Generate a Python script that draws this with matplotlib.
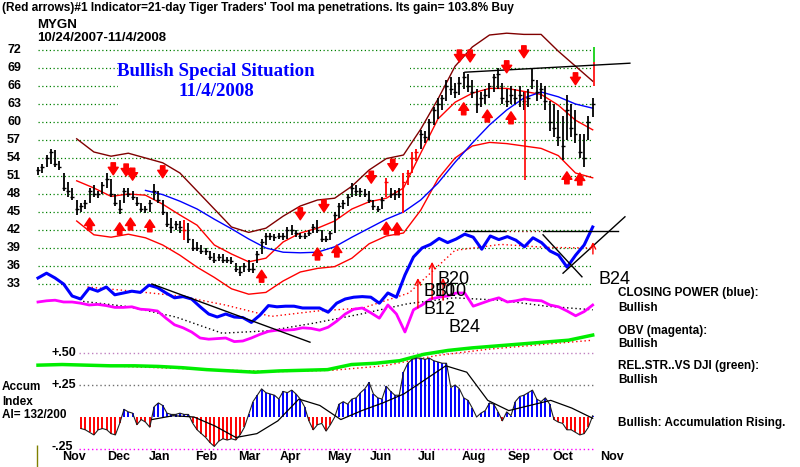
import numpy as np
import matplotlib
matplotlib.use('Agg')
import matplotlib.pyplot as plt
from matplotlib import transforms
from matplotlib.patches import Rectangle

plt.rcParams['font.family'] = ['Liberation Sans', 'DejaVu Sans']

# ---- price bars, one every 2 trading days (day 0 = 10/24/2007)
bar_high = [52.5, 53, 54.5, 55.5, 55.3, 53.5, 51.5, 50, 49, 47,
            46.5, 47, 49, 49.5, 48.5, 50, 51.5, 50.5, 48, 47,
            49, 49, 48.5, 47.5, 46.5, 46, 47, 49.7, 48.5, 47,
            45, 44, 43.5, 43.5, 43.7, 43.2, 40.5, 40, 39.5, 39,
            38.5, 38.2, 38, 38, 37.5, 37.5, 36.5, 36, 36.5, 37,
            36.5, 38.5, 40.5, 41.5, 41.5, 41.3, 41.5, 41.5, 42.5, 42.8,
            42, 41.5, 41.5, 42, 43, 43.7, 42, 41, 41.8, 45,
            46.5, 47, 48, 49.8, 49.5, 49, 48.8, 48.5, 47, 46,
            47.5, 50.7, 49, 48.7, 49, 51.5, 52, 55, 55.5, 58.7,
            58.5, 60.5, 62.5, 64, 64.5, 67, 67.5, 66.5, 67.5, 68.3,
            68, 67, 65.5, 65, 65.5, 66.5, 68, 69, 66.5, 65.5,
            66, 65.5, 66, 65, 65.5, 69, 67, 66.5, 66, 63.5,
            63, 62, 61, 64.5, 63, 62, 58, 58, 61, 64]
bar_low = [51.2, 51.5, 52.5, 53, 52.5, 52, 48.5, 47.5, 47, 44.5,
           45, 45.5, 46.5, 47.5, 47.3, 48, 49, 47.5, 46, 44.7,
           46.5, 47.5, 47, 46, 45, 44.8, 45, 47, 46.5, 44.5,
           42.5, 41.5, 42, 41.5, 40.3, 39.8, 38.5, 38.5, 38, 37.8,
           37, 36.5, 36.8, 36.5, 36.5, 36.3, 35, 34.3, 35, 35,
           34.8, 36.5, 38, 39.5, 40.3, 40.2, 40.5, 40.3, 40.5, 41.2,
           40.8, 40.5, 40.5, 41, 41.5, 41.5, 40, 40, 40.3, 41.5,
           44, 45.5, 46, 47.5, 47.7, 47.5, 47.5, 46.5, 45.3, 45,
           45.5, 47.5, 47.3, 47, 47.3, 44.8, 49.5, 51.5, 53.5, 55.5,
           56.5, 57, 59.5, 60.5, 62, 63.5, 64.5, 64, 64.5, 65.5,
           65, 64, 61.5, 62.5, 63, 64, 65, 65.5, 63, 62.5,
           63, 63, 62.5, 62, 62.5, 65.5, 63.5, 63.8, 62, 58.5,
           57.5, 56, 53.7, 57, 57.5, 56.5, 54, 52.5, 57, 60.8]
bar_close = [52, 52.5, 54, 55, 53, 52.5, 49, 48.5, 47.5, 45.5,
             46, 46.5, 48.5, 48, 48, 49.5, 50.5, 48, 46.5, 45.5,
             48.5, 48, 47.5, 46.5, 45.5, 45.5, 46.5, 48.5, 47, 45,
             43, 42.5, 43, 42.5, 42, 40.5, 39, 39, 38.5, 38.5,
             37.5, 37, 37.5, 37, 37, 36.8, 35.5, 35, 36, 35.5,
             35.5, 38, 40, 41, 41, 40.8, 41, 41, 42, 42,
             41.5, 41, 41, 41.5, 42.5, 42, 40.5, 40.5, 41.5, 44.5,
             46, 46.5, 47.5, 49, 48.5, 48.5, 48, 47, 46, 45.5,
             47, 50, 48, 48, 48, 50, 51.5, 54, 55, 58,
             57.5, 60, 62, 63, 64, 66, 65.5, 65, 66.5, 67.5,
             66, 65, 63, 64, 64.5, 66, 67.5, 68, 64, 63.5,
             64.5, 64, 64.5, 63.5, 64, 67, 65, 65.5, 63.5, 60,
             59, 57.5, 56, 62, 59, 58, 55, 54, 60, 63]
red_bar_days = [68, 162, 170, 172, 174, 176]

# ---- bands and moving averages (sampled every 8 days from day 18)
band_upper = [57.2, 55, 54.3, 54.8, 54, 53.2, 51.5, 48.5, 45.5, 42.5,
              41.6, 42.3, 44.3, 46, 47, 47.3, 49.3, 52, 53.9, 54.5,
              58.8, 63.8, 69.3, 72.5, 74.5, 74.8, 74.6, 74.6, 71.8, 69.3, 66.8]
ma21 = [50.2, 49, 47.6, 48, 47.8, 46.3, 44.5, 42.8, 39.5, 38,
        36.7, 37.3, 40, 41.5, 42.3, 43.5, 45.5, 46.7, 47.3, 49,
        54.8, 60.5, 63.3, 64.8, 65.6, 65.6, 65.1, 64.6, 62.8, 60.3, 58.7]
band_lower = [43.5, 41.2, 40.8, 41.3, 40.7, 39.5, 37.8, 35.8, 34.1, 32.2,
              31.3, 31.6, 33.5, 35, 35.6, 35.9, 37.3, 39.7, 41, 41.5,
              45.3, 50.5, 54, 56, 56.6, 56.4, 56, 55.6, 54.4, 51.5, 50.7]
ma50 = [48.6, 47.9, 46.8, 45.5, 43.8, 42.2, 40.5, 39, 38.3, 38.2,
        38.3, 39.2, 40.8, 42.3, 43.8, 45, 47, 49.8, 53.3, 56.5,
        59.5, 62, 64, 65, 64.2, 63, 62.3]

# ---- red arrows (day, price at arrow tip)
down_day = [35, 41, 44, 58, 122, 133, 155, 165, 196, 201, 218, 226, 250]
down_tip = [51.2, 51, 50.3, 50.7, 43.7, 45, 49.8, 51.8, 70, 70, 68.2, 70.7, 66.2]
up_day = [24, 38, 43, 52, 104, 130, 139, 162, 167, 198, 209, 220, 246, 252]
up_tip = [44, 43.2, 44, 43.7, 35.3, 39, 39.5, 43.3, 43.2, 63.2, 62, 61.7, 51.7, 51.5]

# ---- indicators drawn in the price panel
closing_power = [34, 34.8, 34, 33, 31, 30.5, 32.3, 31.8, 32.5, 31.2,
                 31.5, 31.8, 31.6, 32.8, 32.4, 31.5, 30.7, 30.9, 30.5, 29.2,
                 28, 27.5, 28, 27.5, 27.4, 26.6, 27.8, 29.4, 29.2, 29.3,
                 29.3, 29, 29, 29, 28.3, 29.8, 30.5, 30.8, 30.9, 30.8,
                 29.8, 31.5, 30.8, 34.5, 37.5, 39, 39.6, 40.6, 39.9, 40.5,
                 41.3, 40.8, 38.8, 41, 40.4, 40.9, 40.3, 39.2, 40.7, 39.9,
                 38.5, 37.8, 35.8, 37.8, 39.5, 42.5]
cp_ma = [32.5, 31.8, 31, 29.5, 27.6, 28.5, 29, 31.5, 38.6, 39.6, 39.1, 39]
obv = [30, 30.2, 30.3, 30, 30, 29.8, 29.5, 29.6, 29.4, 29.1,
       29.1, 29.2, 28.8, 28.7, 28.5, 27.3, 26.2, 25.7, 25, 24,
       23.8, 23.9, 24, 23.4, 23.5, 24, 24.6, 25.1, 25.3, 25.3,
       25.4, 25.7, 25.6, 25.3, 25.8, 26.8, 28, 28.8, 29, 28.2,
       27.3, 29.5, 28, 25, 28.7, 29.5, 30.5, 30.8, 31, 31.5,
       31.5, 29.3, 29.8, 30.3, 30.7, 30, 30.2, 30.5, 30.3, 30.2,
       29.5, 29.2, 28.5, 27.7, 28.4, 29.5]
obv_ma = [30.1, 29.2, 27.5, 24.8, 25.2, 26.5, 28, 29.7, 30.7, 30.3, 29.3, 28.7]

# ---- relative strength and accumulation index (own scale)
rel_str = [0.405, 0.41, 0.405, 0.4, 0.4, 0.395, 0.385, 0.37, 0.36, 0.35,
           0.36, 0.365, 0.37, 0.41, 0.42, 0.44, 0.49, 0.52, 0.54, 0.555,
           0.57, 0.585, 0.6, 0.64]
rel_str_ma = [0.395, 0.38, 0.365, 0.355, 0.365, 0.4, 0.48, 0.53, 0.565, 0.6]
accum = [-0.09, -0.1, -0.12, -0.14, -0.1, -0.09, -0.1, -0.13, -0.14, -0.05,
         0.06, 0.04, 0.03, -0.06, -0.02, -0.04, -0.08, 0.08, 0.11, 0.09,
         0.03, 0.02, 0.02, 0.03, 0.02, 0.02, -0.05, -0.1, -0.13, -0.16,
         -0.2, -0.23, -0.19, -0.17, -0.18, -0.17, -0.18, -0.14, -0.08, 0.02,
         0.12, 0.17, 0.22, 0.19, 0.18, 0.17, 0.14, 0.2, 0.19, 0.21,
         0.18, 0.14, 0.08, -0.03, -0.1, -0.06, -0.05, -0.11, -0.06, 0.0,
         0.1, 0.12, 0.1, 0.14, 0.15, 0.19, 0.22, 0.27, 0.18, 0.15,
         0.14, 0.24, 0.2, 0.17, 0.17, 0.35, 0.42, 0.45, 0.46, 0.46,
         0.45, 0.46, 0.44, 0.43, 0.42, 0.42, 0.23, 0.25, 0.22, 0.15,
         0.13, 0.07, 0.0, 0.03, 0.05, 0.11, 0.1, 0.04, -0.03, 0.04,
         0.01, 0.12, 0.16, 0.17, 0.19, 0.21, 0.14, 0.12, 0.15, 0.1,
         -0.02, -0.04, -0.05, -0.1, -0.1, -0.12, -0.14, -0.13, -0.08, 0.01]
accum_ma = [-0.02, 0.01, 0.0, -0.07, -0.16, -0.13, -0.03, 0.14, 0.09, -0.02,
            0.05, 0.11, 0.18, 0.29, 0.4, 0.35, 0.13, 0.05, 0.09, 0.13, 0.07, -0.01]

price_ticks = [72, 69, 66, 63, 60, 57, 54, 51, 48, 45, 42, 39, 36, 33]
months = ['Nov', 'Dec', 'Jan', 'Feb', 'Mar', 'Apr', 'May', 'Jun', 'Jul',
          'Aug', 'Sep', 'Oct', 'Nov']
month_day = [16.7, 37.7, 56.7, 78.1, 98.1, 117.2, 140, 159.5, 180.9,
             202.8, 223.7, 244.2, 267]

# ---------------------------------------------------------------- figure
fig = plt.figure(figsize=(8, 4.67), dpi=100)
ax = fig.add_axes([0, 0, 1, 1])
ax.set_xlim(-17.674, 354.42)
ax.set_ylim(2.5, 80.333)
ax.axis('off')

axi = fig.add_axes([0, 0, 1, 1])
axi.set_xlim(-17.674, 354.42)
axi.set_ylim(-0.390625, 3.2578)
axi.axis('off')
axi.patch.set_visible(False)

dots = (0, (1, 2))

# price grid
ax.hlines(price_ticks, 0, 258, colors='#008000', linestyles=dots, lw=0.9, zorder=1)
ax.add_patch(Rectangle((118 / 800, 1 - 112 / 467), 292 / 800, 53 / 467,
                       transform=fig.transFigure, facecolor='white',
                       edgecolor='none', zorder=1.5))

# bands
band_days = np.linspace(18, 258, len(band_upper))
ax.plot(band_days, band_upper, color='#800000', lw=1, zorder=2)
ax.plot(band_days, ma21, color='#ff0000', lw=1, zorder=2)
ax.plot(band_days, band_lower, color='#ff0000', lw=1, zorder=2)
ax.plot(np.linspace(50, 258, len(ma50)), ma50, color='#0000ff', lw=1, zorder=2)

# price bars
bar_days = np.arange(len(bar_high)) * 2
bar_cols = ['#ff0000' if d in red_bar_days else 'black' for d in bar_days]
ax.vlines(bar_days, bar_low, bar_high, colors=bar_cols, lw=1.3, zorder=3)
ax.hlines(bar_close, bar_days - 0.9, bar_days + 0.9, colors=bar_cols, lw=1, zorder=3)
ax.vlines([226.5], [50.3], [65], colors='#ff0000', lw=1.2, zorder=3)
ax.vlines([258.5], [66], [70], colors='#ff0000', lw=1.2, zorder=3)
ax.vlines([258.5], [70], [72.5], colors='#00cc00', lw=1.2, zorder=3)
ax.plot([198.6, 275.3], [68.3, 69.8], color='black', lw=1, zorder=3)

# fat arrows
astyle = dict(arrowstyle='simple,head_width=0.8,head_length=0.6,tail_width=0.35',
              color='#ff0000', mutation_scale=9, shrinkA=0, shrinkB=0)
for d, p in zip(down_day, down_tip):
    ax.annotate('', xy=(d, p), xytext=(d, p + 2.0), arrowprops=astyle, zorder=4)
for d, p in zip(up_day, up_tip):
    ax.annotate('', xy=(d, p), xytext=(d, p - 2.0), arrowprops=astyle, zorder=4)

# closing power and OBV
ax.plot(np.linspace(23, 258, len(cp_ma)), cp_ma, color='#ff0000', lw=1, ls=dots, zorder=2)
ax.plot(np.linspace(0, 258, len(closing_power)), closing_power, color='#0000ff', lw=2.2, zorder=3)
ax.plot(np.linspace(21, 258, len(obv_ma)), obv_ma, color='black', lw=1, ls=dots, zorder=2)
ax.plot(np.linspace(0, 258, len(obv)), obv, color='#ff00ff', lw=2, zorder=3)

# trend lines on closing power
ax.plot([53, 126.5], [33, 23.3], color='black', lw=1, zorder=3)
ax.plot([198.6, 217], [41.8, 41.8], color='black', lw=1, zorder=3)
ax.plot([217, 235], [41.8, 41.8], color='#800000', lw=1, ls=dots, zorder=3)
ax.plot([235, 270], [41.8, 41.8], color='black', lw=1, zorder=3)
ax.plot([234.9, 253], [41.2, 34.2], color='black', lw=1, zorder=3)
ax.plot([244.2, 273], [34.8, 44.2], color='black', lw=1, zorder=3)

# thin signal arrows
thin = dict(arrowstyle='->', color='#ff0000', lw=1, shrinkA=0, shrinkB=0)
for d, p0, p1 in zip([176.7, 183.3, 188.4, 258.1], [29, 30.5, 30.3, 38], [34, 36.7, 34, 40]):
    ax.annotate('', xy=(d, p1), xytext=(d, p0), arrowprops=thin, zorder=4)

for txt, d, p in [('B20', 185.6, 33.8), ('B10', 179.5, 31.8), ('B10', 184.5, 31.8),
                  ('B12', 179.5, 28.7), ('B24', 190.7, 25.7), ('B24', 260.9, 33.7)]:
    ax.text(d, p, txt, fontsize=13, va='center', ha='left', color='black', zorder=5)

# relative strength + accumulation index
axi.hlines([0.5], 19, 259, colors='#c080c0', linestyles=dots, lw=1)
axi.hlines([0.25], 19, 259, colors='#707070', linestyles=dots, lw=1)
axi.hlines([-0.25], 19, 259, colors='#ff00ff', linestyles=dots, lw=1)
axi.plot(np.linspace(40, 258, len(rel_str_ma)), rel_str_ma, color='#ff0000', lw=1, ls=dots)
axi.plot(np.linspace(0, 258, len(rel_str)), rel_str, color='#00ee00', lw=2.5)

ai_days = np.linspace(20, 258, len(accum))
ai = np.array(accum)
axi.vlines(ai_days, 0, ai, colors=np.where(ai >= 0, '#0000ff', '#ff0000'), lw=1.4)
axi.plot(ai_days, ai, color='#202020', lw=0.8)
axi.plot(np.linspace(53, 258, len(accum_ma)), accum_ma, color='black', lw=0.9)
axi.vlines([-0.5], -0.39, -0.22, colors='#808000', lw=1)

# ---------------------------------------------------------------- texts
def ftxt(x, y, s, **kw):
    fig.text(x / 800, 1 - y / 467, s, **kw)

ftxt(2, 8, "(Red arrows)#1 Indicator=21-day Tiger Traders' Tool ma penetrations. Its gain= 103.8% Buy",
     fontsize=8.6, fontweight='bold', va='center')
ftxt(37, 25, 'MYGN', fontsize=9.5, fontweight='bold', va='center')
ftxt(37, 38, '10/24/2007-11/4/2008', fontsize=9.5, fontweight='bold', va='center')
ftxt(216, 71, 'Bullish Special Situation', fontsize=13.6, fontweight='bold',
     family='Liberation Serif', color='#0000ff', ha='center', va='center')
ftxt(216, 92, '11/4/2008', fontsize=13.6, fontweight='bold',
     family='Liberation Serif', color='#0000ff', ha='center', va='center')

ytr = transforms.blended_transform_factory(fig.transFigure, ax.transData)
for p in price_ticks:
    ax.text(7 / 800, p, str(p), transform=ytr, fontsize=9, fontweight='bold', va='center')
itr = transforms.blended_transform_factory(fig.transFigure, axi.transData)
for v, s in [(0.5, '+.50'), (0.25, '+.25'), (-0.235, '-.25')]:
    axi.text(52 / 800, v, s, transform=itr, fontsize=9, fontweight='bold', va='center')

xtr = transforms.blended_transform_factory(ax.transData, fig.transFigure)
for d, m in zip(month_day, months):
    ax.text(d, 1 - 457 / 467, m, transform=xtr, fontsize=9, fontweight='bold',
            ha='center', va='center')

ftxt(2, 387, 'Accum', fontsize=8.5, fontweight='bold', va='center')
ftxt(2, 402, 'Index', fontsize=8.5, fontweight='bold', va='center')
ftxt(2, 415, 'AI= 132/200', fontsize=8.5, fontweight='bold', va='center')

for y, s in [(293, 'CLOSING POWER (blue):'), (308, 'Bullish'), (331, 'OBV (magenta):'),
             (344, 'Bullish'), (366, 'REL.STR..VS DJI (green):'), (380, 'Bullish'),
             (423, 'Bullish: Accumulation Rising.')]:
    ftxt(618, y, s, fontsize=8.5, fontweight='bold', va='center')

fig.savefig('out.png', dpi=100, facecolor='white')
